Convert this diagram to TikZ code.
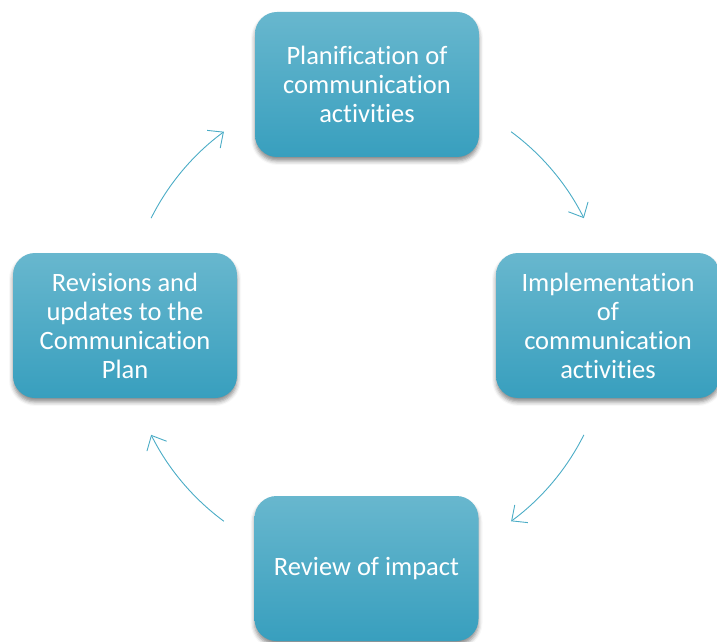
\documentclass[tikz,border=0pt]{standalone}
\usepackage{fontspec}
\setmainfont{Carlito}[Ligatures=NoCommon]
\usetikzlibrary{shadows.blur,arrows.meta}

\definecolor{boxtop}{RGB}{104,183,206}
\definecolor{boxmid}{RGB}{74,174,204}
\definecolor{boxbottom}{RGB}{56,159,190}
\definecolor{flowline}{RGB}{75,172,198}

\begin{document}
\begin{tikzpicture}[
x=1pt, y=1pt,
stage/.style={rectangle, rounded corners=22pt, minimum width=224pt, minimum height=145pt,
    align=center, text=white, font=\fontsize{26.5}{29}\selectfont,
    top color=boxtop, middle color=boxmid, bottom color=boxbottom,
    blur shadow={shadow xshift=0pt, shadow yshift=-4pt, shadow blur radius=4pt, shadow opacity=45}},
flow/.style={draw=flowline, line width=0.9pt, -{Straight Barb[length=12pt,width=22pt]}}
]
\useasboundingbox (0,0) rectangle (717,641);

\coordinate (mid) at (367.5,314.5);

\node[stage] (plan) at (367,556.5) {Planification of\\communication\\activities};
\node[stage] (impl) at (608,315.5) {Implementation\\of\\communication\\activities};
\node[stage] (review) at (366.5,72.5) {Review of impact};
\node[stage] (revise) at (125,315.5) {Revisions and\\updates to the\\Communication\\Plan};

% arrows round the cycle
\draw[flow] ([shift={(53.6:242)}]mid) arc[start angle=53.6, end angle=26.6, radius=242];
\draw[flow] ([shift={(-26.6:242)}]mid) arc[start angle=-26.6, end angle=-53.6, radius=242];
\draw[flow] ([shift={(-126.4:242)}]mid) arc[start angle=-126.4, end angle=-153.4, radius=242];
\draw[flow] ([shift={(153.4:242)}]mid) arc[start angle=153.4, end angle=126.4, radius=242];

\end{tikzpicture}
\end{document}
